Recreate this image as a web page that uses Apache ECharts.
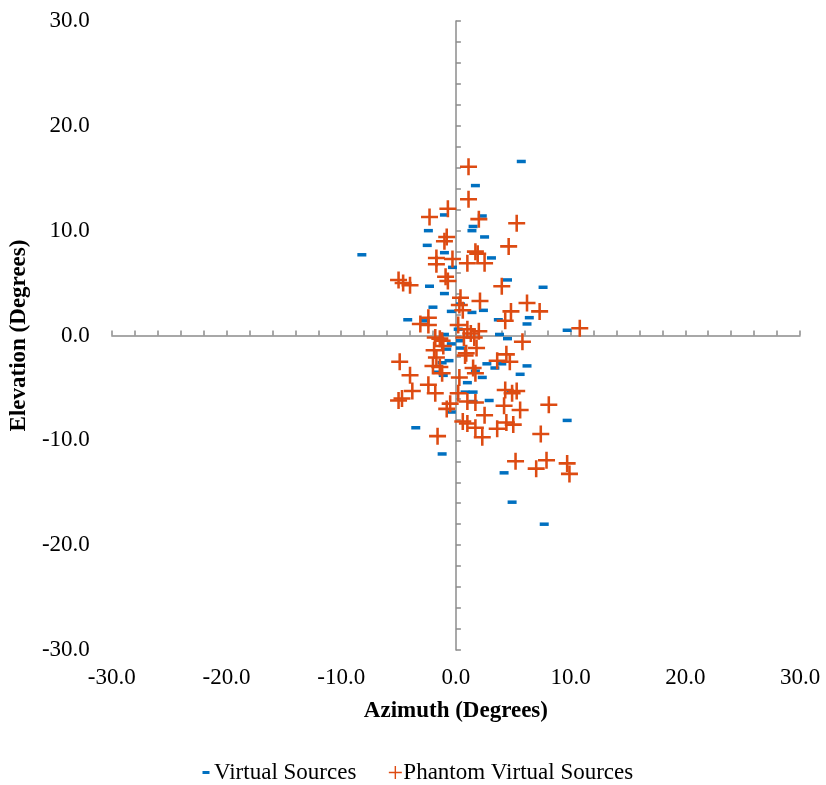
<!DOCTYPE html>
<html>
<head>
<meta charset="utf-8">
<script src="https://cdn.jsdelivr.net/npm/echarts@6/dist/echarts.min.js"></script>
<style>html,body{margin:0;padding:0;background:#fff}#c{width:826px;height:785px}</style>
</head>
<body>
<div id="c"></div>
<script>
const xTicks = [-30, -20, -10, 0, 10, 20, 30];
const yTicks = [-30, -20, -10, 0, 10, 20, 30];

const virtualSources = [
  [5.7,16.6],[1.7,14.3],[-1.0,11.5],[2.3,11.4],[-2.4,10.0],[1.5,10.4],[1.4,10.0],[2.5,9.4],
  [-2.5,8.6],[-8.2,7.7],[-1.0,7.9],[3.1,7.4],[-0.3,6.5],[4.5,5.3],[7.6,4.6],[-2.3,4.7],
  [-1.0,4.0],[-2.0,2.7],[0.4,3.0],[-0.4,2.3],[1.4,2.2],[2.4,2.4],[-4.2,1.5],[-2.7,1.4],
  [3.7,1.5],[6.4,1.7],[6.2,1.1],[9.7,0.5],[3.8,0.1],[4.5,-0.3],[-1.0,0.1],[0.2,0.6],
  [0.4,-0.5],[-0.4,-0.8],[-0.8,-1.3],[0.4,-1.2],[-0.6,-2.4],[-1.2,-2.6],[2.7,-2.7],[4.0,-2.7],
  [3.4,-3.1],[6.2,-2.9],[-1.6,-3.5],[-1.1,-3.8],[1.7,-3.4],[5.6,-3.7],[2.3,-4.0],[1.0,-4.5],
  [0.8,-5.4],[1.5,-5.4],[4.8,-5.4],[1.5,-6.3],[2.9,-6.2],[-0.4,-7.3],[9.7,-8.1],[-3.5,-8.8],
  [-1.2,-11.3],[4.2,-13.1],[4.9,-15.9],[7.7,-18.0]
];

const phantomSources = [
  [1.1,16.1],[1.1,13.0],[-0.7,12.1],[-2.3,11.3],[2.0,11.1],[5.3,10.7],[-0.8,9.4],[-1.0,9.0],
  [4.6,8.5],[1.7,8.0],[1.9,7.8],[-1.7,7.4],[-0.3,7.3],[1.0,6.9],[2.5,6.9],[-1.7,6.8],
  [-0.9,5.6],[-0.7,5.2],[-5.0,5.3],[-4.6,5.0],[-4.0,4.8],[4.0,4.7],[0.4,3.6],[2.1,3.3],
  [6.2,3.1],[0.3,2.9],[7.3,2.3],[4.8,2.3],[4.3,1.4],[0.6,2.4],[-2.4,1.7],[-3.1,1.1],
  [-2.4,1.0],[10.8,0.7],[0.2,1.0],[1.0,0.6],[1.3,0.2],[2.0,0.4],[-1.8,-0.2],[-1.2,-0.5],
  [-1.1,-1.0],[0.7,-0.2],[1.6,-0.2],[1.8,-1.2],[-1.9,-1.4],[0.8,-1.9],[-1.4,-0.3],[5.8,-0.6],
  [0.9,-1.7],[-4.9,-2.5],[-1.7,-2.1],[4.4,-1.8],[3.6,-2.4],[4.7,-2.5],[-2.0,-2.9],[-1.4,-3.0],
  [-4.0,-3.8],[-1.2,-3.6],[0.3,-4.0],[1.5,-3.1],[1.7,-3.6],[-2.4,-4.7],[-3.8,-5.3],[-4.7,-6.0],
  [-5.0,-6.2],[-1.8,-5.5],[0.2,-5.5],[4.3,-5.2],[4.9,-5.5],[5.3,-5.3],[8.1,-6.6],[1.0,-6.3],
  [1.7,-6.4],[-0.5,-6.5],[4.2,-6.7],[5.6,-7.1],[-0.8,-7.0],[2.5,-7.6],[0.6,-8.2],[1.0,-8.4],
  [1.7,-8.8],[4.4,-8.3],[5.0,-8.5],[3.6,-8.9],[2.3,-9.7],[-1.6,-9.6],[7.4,-9.4],[5.2,-12.0],
  [7.9,-11.9],[7.0,-12.7],[9.7,-12.2],[9.9,-13.2]
];

const FONT = "'Liberation Serif', 'Times New Roman', serif";
const FS = 23;
const BLUE = '#0070C0';
const ORANGE = '#DD4B12';
const AXIS = '#8C8C8C';
const PLUS = 'path://M-1.5,-10 H1.5 V-1.5 H10 V1.5 H1.5 V10 H-1.5 V1.5 H-10 V-1.5 H-1.5 Z';
const DASH_ICON = 'path://M0,0 L0.01,0 L0.01,0.01 Z M14,14 L13.99,14 L13.99,13.99 Z M3.5,5.5 H10.5 V8.5 H3.5 Z';
const PLUS_ICON = 'path://M0,0 L0.01,0 L0.01,0.01 Z M14,14 L13.99,14 L13.99,13.99 Z M6.3,0.5 H7.7 V6.3 H13.5 V7.7 H7.7 V13.5 H6.3 V7.7 H0.5 V6.3 H6.3 Z';

const chart = echarts.init(document.getElementById('c'), null, {renderer: 'canvas'});
chart.setOption({
  backgroundColor: '#fff',
  animation: false,
  grid: {left: 111, right: 26, top: 21, bottom: 135, containLabel: false},
  xAxis: [
    {
      type: 'value', min: xTicks[0], max: xTicks[xTicks.length - 1], interval: 2,
      axisLine: {show: true, onZero: true, onZeroAxisIndex: 0, lineStyle: {color: AXIS, width: 1.5}},
      axisTick: {show: true, inside: true, length: 5, lineStyle: {color: AXIS, width: 1.5}},
      axisLabel: {show: false}, splitLine: {show: false}
    },
    {
      type: 'value', position: 'bottom', min: xTicks[0], max: xTicks[xTicks.length - 1], interval: 10,
      axisLine: {show: false, onZero: false}, axisTick: {show: false}, splitLine: {show: false},
      axisLabel: {show: true, margin: 16, color: '#000', fontFamily: FONT, fontSize: FS,
        formatter: v => v.toFixed(1)},
      name: 'Azimuth (Degrees)', nameLocation: 'middle', nameGap: 50,
      nameTextStyle: {color: '#000', fontFamily: FONT, fontSize: FS, fontWeight: 'bold'}
    }
  ],
  yAxis: [
    {
      type: 'value', min: yTicks[0], max: yTicks[yTicks.length - 1], interval: 2,
      axisLine: {show: true, onZero: true, onZeroAxisIndex: 0, lineStyle: {color: AXIS, width: 1.5}},
      axisTick: {show: true, inside: true, length: 5, lineStyle: {color: AXIS, width: 1.5}},
      axisLabel: {show: false}, splitLine: {show: false}
    },
    {
      type: 'value', position: 'left', min: yTicks[0], max: yTicks[yTicks.length - 1], interval: 10,
      axisLine: {show: false, onZero: false}, axisTick: {show: false}, splitLine: {show: false},
      axisLabel: {show: true, margin: 22, color: '#000', fontFamily: FONT, fontSize: FS,
        formatter: v => v.toFixed(1)},
      name: 'Elevation (Degrees)', nameLocation: 'middle', nameGap: 77, nameRotate: 90,
      nameTextStyle: {color: '#000', fontFamily: FONT, fontSize: FS, fontWeight: 'bold'}
    }
  ],
  legend: {
    top: 756, left: 194, itemGap: 32, itemWidth: 14, itemHeight: 14,
    textStyle: {color: '#000', fontFamily: FONT, fontSize: FS, padding: [0, 0, 0, -4]},
    data: [
      {name: 'Virtual Sources', icon: DASH_ICON, itemStyle: {color: BLUE}},
      {name: 'Phantom Virtual Sources', icon: PLUS_ICON, itemStyle: {color: ORANGE}}
    ]
  },
  series: [
    {
      name: 'Virtual Sources', type: 'scatter', xAxisIndex: 0, yAxisIndex: 0,
      symbol: 'rect', symbolSize: [9, 3.5], itemStyle: {color: BLUE, opacity: 1},
      data: virtualSources
    },
    {
      name: 'Phantom Virtual Sources', type: 'scatter', xAxisIndex: 0, yAxisIndex: 0,
      symbol: PLUS, symbolSize: 17, itemStyle: {color: ORANGE, opacity: 1},
      data: phantomSources
    }
  ]
});
</script>
</body>
</html>
